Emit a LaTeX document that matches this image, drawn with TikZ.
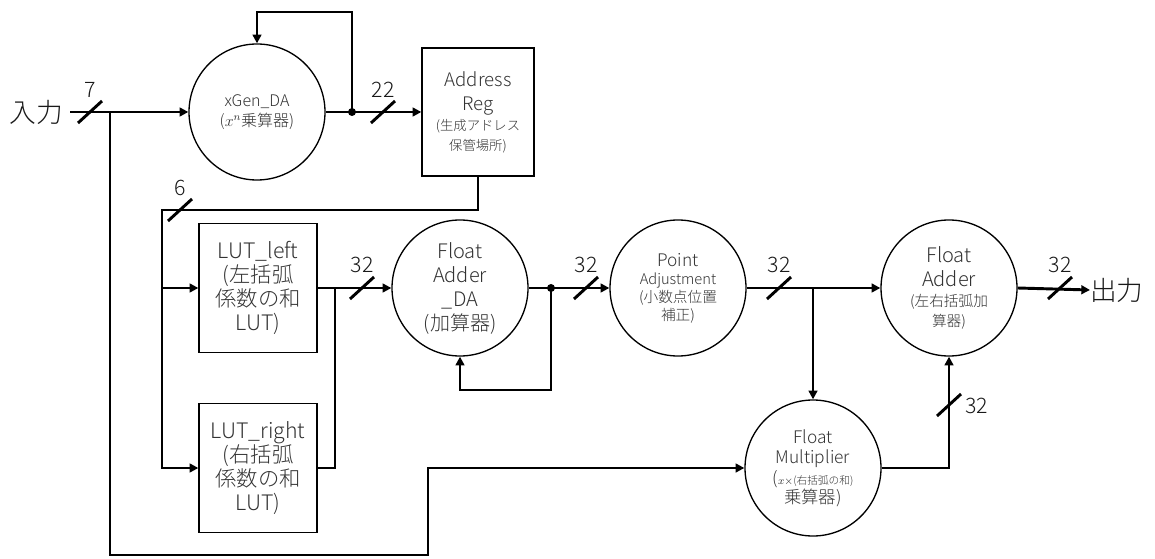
\documentclass[tikz,border=0pt]{standalone}
\usepackage{fontspec}
\setmainfont{Noto Sans CJK JP}[UprightFont={* Light}]
\usetikzlibrary{arrows.meta,calc}
\newcommand{\fsz}[2]{\fontsize{#1}{#2}\selectfont}
\tikzset{
  wire/.style={line width=2.2pt},
  conn/.style={line width=2.2pt,-{Triangle[length=6.5pt,width=6.5pt]}},
  blk/.style={draw,line width=1pt,text=black!80,align=center,inner sep=1pt},
  rnd/.style={blk,circle,minimum size=102pt},
  sqbox/.style={blk,rectangle},
  lbl/.style={inner sep=0pt,text=black!90,font=\fsz{16}{16}},
  big/.style={inner sep=0pt,text=black!90,font=\fsz{20}{20}},
  bus/.pic={\draw[line width=2.2pt] (-12,11) -- (12,-11);}
}
\begin{document}
\begin{tikzpicture}[x=0.75pt,y=-0.75pt]
\useasboundingbox (0,0) rectangle (1155,559);

% nodes
\node[big,anchor=east] (in) at (63,112) {入力};
\node[big,anchor=west] (out) at (1090,290) {出力};

\node[rnd,font=\fsz{12}{15}] (xgen) at (257,112) {xGen\_DA\\($x^n$乗算器)};
\node[sqbox,minimum width=84pt,minimum height=96pt,font=\fsz{14}{18}] (areg) at (478,112)
  {Address\\Reg\\[-3pt]\fsz{10}{13.5}(生成アドレス\\[-3pt]\fsz{10}{13.5}保管場所)};
\node[sqbox,minimum width=88.5pt,minimum height=97pt,font=\fsz{16}{18.2}] (lutl) at (258,288)
  {LUT\_left\\(左括弧\\係数の和\\LUT)};
\node[sqbox,minimum width=88.5pt,minimum height=97pt,font=\fsz{16}{18.2}] (lutr) at (258,468)
  {LUT\_right\\(右括弧\\係数の和\\LUT)};
\node[rnd,font=\fsz{15}{18}] (fada) at (460,288)
  {Float\\Adder\\\_DA\\(加算器)};
\node[rnd,font=\fsz{11}{13.5}] (padj) at (678,288)
  {\fsz{13}{15}Point\\Adjustment\\(小数点位置\\補正)};
\node[rnd,font=\fsz{15}{18}] (fadd) at (949,288)
  {Float\\Adder\\[-3pt]\fsz{11}{13.5}(左右括弧加\\[-3pt]\fsz{11}{13.5}算器)};
\node[rnd,font=\fsz{13}{15}] (fmul) at (813,468)
  {Float\\Multiplier\\[1pt]({\fsz{8}{10}$x\times$(右括弧の和)}\\[-1pt]乗算器)};

% coordinates
\coordinate (b1) at (110,112);
\coordinate (d1) at (352,112);
\coordinate (fb1) at (352,12);
\coordinate (c2) at (428,555);
\coordinate (c3) at (162,210);
\coordinate (j2) at (335,288);
\coordinate (d2) at (551,288);
\coordinate (fb2) at (551,390);
\coordinate (j3) at (813,288);

% connectors
\draw[wire] ([xshift=5.25pt]in.east) -- (b1);
\draw[conn] (b1) -- (xgen.west);
\draw[conn] (xgen.east) -- (areg.west);
\draw[conn] (d1) -- (fb1) -| (xgen.north);
\fill (d1) circle (3pt);
\draw[conn] (b1) |- (c2) |- (fmul.west);
\draw[conn] (areg.south) |- (c3) |- (lutr.west);
\draw[conn] (c3 |- lutl.west) -- (lutl.west);
\draw[conn] (lutl.east) -- (fada.west);
\draw[wire] (lutr.east) -| (j2);
\draw[conn] (fada.east) -- (padj.west);
\draw[conn] (d2) -- (fb2) -| (fada.south);
\fill (d2) circle (3pt);
\draw[conn] (padj.east) -- (fadd.west);
\draw[conn] (j3) -- (fmul.north);
\draw[conn] (fmul.east) -| (fadd.south);
\draw[conn] (fadd.east) -- (out.west);

% bus width marks
\pic at (90,112) {bus};   \node[lbl] (l7) at (90,90) {7};
\pic at (383,112) {bus};  \node[lbl] (l22) at (383,90) {22};
\pic at (180,210) {bus};  \node[lbl] (l6) at (180,188) {6};
\pic at (362,288) {bus};  \node[lbl] (l32a) at (362,265) {32};
\pic at (586,288) {bus};  \node[lbl] (l32b) at (586,265) {32};
\pic at (779,288) {bus};  \node[lbl] (l32c) at (779,265) {32};
\pic at (1060,288) {bus}; \node[lbl] (l32d) at (1060,265) {32};
\pic at (949,405) {bus};  \node[lbl,anchor=west] (l32e) at (965,406) {32};
\end{tikzpicture}
\end{document}
